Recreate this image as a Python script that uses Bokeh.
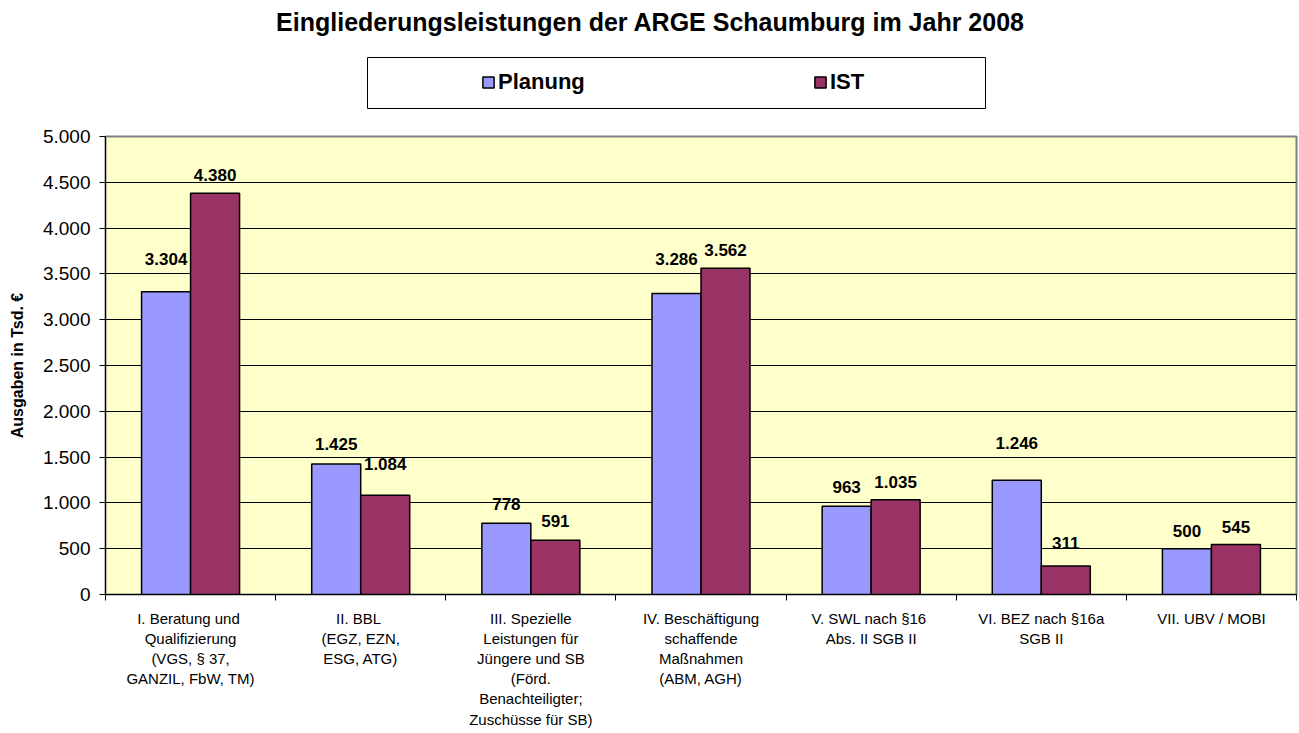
from bokeh.plotting import figure
from bokeh.layouts import column
from bokeh.models import (Range1d, FixedTicker, Legend, LegendItem, ColumnDataSource,
                          Label, BoxAnnotation)
from bokeh.transform import dodge
from bokeh.embed import file_html
from bokeh.resources import INLINE

# ---------------- data ----------------
categories = [
    "I.  Beratung und\nQualifizierung\n(VGS, § 37,\nGANZIL, FbW, TM)",
    "II.  BBL\n(EGZ, EZN,\nESG, ATG)",
    "III. Spezielle\nLeistungen für\nJüngere und SB\n(Förd.\nBenachteiligter;\nZuschüsse für SB)",
    "IV. Beschäftigung\nschaffende\nMaßnahmen\n(ABM, AGH)",
    "V.  SWL nach §16\nAbs. II SGB II",
    "VI. BEZ nach §16a\nSGB II",
    "VII. UBV / MOBI",
]
planung = [3304, 1425, 778, 3286, 963, 1246, 500]
ist = [4380, 1084, 591, 3562, 1035, 311, 545]
series_names = ["Planung", "IST"]
y_ticks = [0, 500, 1000, 1500, 2000, 2500, 3000, 3500, 4000, 4500, 5000]
y_tick_labels = ["0", "500", "1.000", "1.500", "2.000", "2.500", "3.000",
                 "3.500", "4.000", "4.500", "5.000"]
title_text = "Eingliederungsleistungen der ARGE Schaumburg im Jahr 2008"
y_axis_title = "Ausgaben in Tsd. €"

# label lift above bar tops (screen px), as placed in the original
lift_planung = [33, 20, 19, 35, 19, 37, 18]
lift_ist = [18, 31, 19, 18, 18, 23, 18]


def fmt(v):
    return f"{v:,}".replace(",", ".")


FONT = "Liberation Sans"
PLAN_COLOR = "#9999FF"
IST_COLOR = "#993366"
W = 1299
H = 733
TOP_H = 120
FRAME_L, FRAME_R, FRAME_T, FRAME_B = 105, 1296, 136, 594

n = len(categories)
xpos = [i + 1 for i in range(n)]
boundaries = [i + 0.5 for i in range(n + 1)]

src = ColumnDataSource(dict(
    x=xpos,
    planung=planung,
    ist=ist,
    lp=[fmt(v) for v in planung],
    li=[fmt(v) for v in ist],
    op=[-v for v in lift_planung],
    oi=[-v for v in lift_ist],
))

# ---------------- header (title + legend) ----------------
# its frame is aligned to the chart frame by the column layout,
# so the x range spans the chart frame's pixel extent
head = figure(width=W, height=TOP_H, output_backend="svg", toolbar_location=None,
              x_range=Range1d(FRAME_L, FRAME_R), y_range=Range1d(TOP_H, 0),
              x_axis_location=None, y_axis_location=None, title=None,
              min_border_left=FRAME_L, min_border_right=W - FRAME_R,
              min_border_top=0, min_border_bottom=0)
head.grid.visible = False
head.outline_line_color = None
head.background_fill_color = "white"
head.border_fill_color = "white"

head.add_layout(Label(x=650, y=21, text=title_text, text_align="center",
                      text_baseline="middle", text_font=FONT,
                      text_font_size="25px", text_font_style="bold",
                      text_color="black"))

head.add_layout(BoxAnnotation(left=367, right=985, top=57, bottom=108,
                              fill_color="white", fill_alpha=1,
                              line_color="black", line_width=1, line_alpha=1))

nan = float("nan")
d_plan = head.vbar(x=[nan], top=[nan], width=1, fill_color=PLAN_COLOR,
                   line_color="black", line_width=1.5)
d_ist = head.vbar(x=[nan], top=[nan], width=1, fill_color=IST_COLOR,
                  line_color="black", line_width=1.5)

legend = Legend(items=[LegendItem(label=series_names[0], renderers=[d_plan]),
                       LegendItem(label=series_names[1], renderers=[d_ist])],
                location=(481 - FRAME_L, TOP_H - 95), orientation="horizontal",
                padding=0, margin=0, spacing=215,
                glyph_width=14, glyph_height=14, label_width=100, label_height=14,
                label_standoff=3,
                label_text_font=FONT, label_text_font_size="22px",
                label_text_font_style="bold", label_text_color="black",
                border_line_alpha=0, background_fill_alpha=0)
head.add_layout(legend)

# ---------------- chart ----------------
p = figure(width=W, height=H - TOP_H, output_backend="svg", toolbar_location=None,
           x_range=Range1d(0.5, n + 0.5), y_range=Range1d(0, 5000), title=None,
           min_border_left=FRAME_L, min_border_right=W - FRAME_R,
           min_border_top=FRAME_T - TOP_H, min_border_bottom=H - FRAME_B)

p.background_fill_color = "#FFFFCC"
p.border_fill_color = "white"
p.outline_line_color = "#808080"
p.outline_line_width = 2

bw = 0.288
r_plan = p.vbar(x=dodge("x", -bw / 2, range=p.x_range), top="planung", width=bw,
                source=src, fill_color=PLAN_COLOR, line_color="black", line_width=1.5)
r_ist = p.vbar(x=dodge("x", bw / 2, range=p.x_range), top="ist", width=bw,
               source=src, fill_color=IST_COLOR, line_color="black", line_width=1.5)

p.text(x=dodge("x", -bw / 2, range=p.x_range), y="planung", text="lp", y_offset="op",
       source=src, text_align="center", text_baseline="middle",
       text_font={"value": FONT}, text_font_size="17px", text_font_style="bold",
       text_color="black")
p.text(x=dodge("x", bw / 2, range=p.x_range), y="ist", text="li", y_offset="oi",
       source=src, text_align="center", text_baseline="middle",
       text_font={"value": FONT}, text_font_size="17px", text_font_style="bold",
       text_color="black")

p.xgrid.grid_line_color = None
p.ygrid.ticker = FixedTicker(ticks=y_ticks)
p.ygrid.grid_line_color = "black"
p.ygrid.grid_line_width = 1

p.yaxis.ticker = FixedTicker(ticks=y_ticks)
p.yaxis.major_label_overrides = {t: l for t, l in zip(y_ticks, y_tick_labels)}
p.yaxis.major_label_text_font = FONT
p.yaxis.major_label_text_font_size = "19px"
p.yaxis.major_label_text_color = "black"
p.yaxis.major_tick_out = 6
p.yaxis.major_tick_in = 0
p.yaxis.minor_tick_line_color = None
p.yaxis.major_label_standoff = 9
p.yaxis.axis_line_color = "black"
p.yaxis.major_tick_line_color = "black"
p.yaxis.axis_label = y_axis_title
p.yaxis.axis_label_text_font = FONT
p.yaxis.axis_label_text_font_size = "16px"
p.yaxis.axis_label_text_font_style = "bold"
p.yaxis.axis_label_text_color = "black"
p.yaxis.axis_label_standoff = 14

p.xaxis.ticker = FixedTicker(ticks=xpos, minor_ticks=boundaries)
p.xaxis.major_label_overrides = {x: c for x, c in zip(xpos, categories)}
p.xaxis.major_label_text_font = FONT
p.xaxis.major_label_text_font_size = "15px"
p.xaxis.major_label_text_color = "black"
p.xaxis.major_label_text_line_height = 1.19
p.xaxis.major_tick_line_color = None
p.xaxis.major_tick_out = 0
p.xaxis.major_tick_in = 0
p.xaxis.minor_tick_line_color = "black"
p.xaxis.minor_tick_out = 6
p.xaxis.minor_tick_in = 0
p.xaxis.major_label_standoff = 9
p.xaxis.axis_line_color = "black"

layout = column(head, p, spacing=0)
open("out.html", "w").write(file_html(layout, INLINE))
